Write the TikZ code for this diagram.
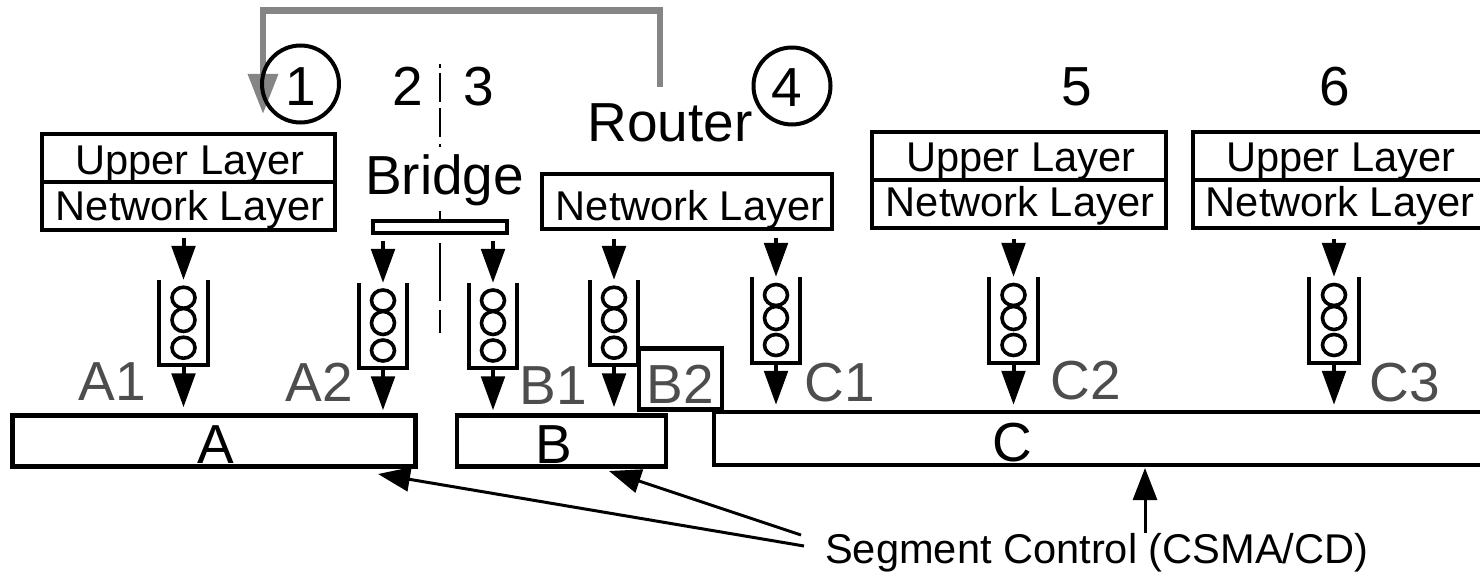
\documentclass[tikz,border=0pt]{standalone}
\usepackage{fontspec}
\setmainfont{Liberation Sans}
\usetikzlibrary{arrows.meta,shapes.geometric}
\definecolor{labelgray}{HTML}{4D4D4D}
\definecolor{routegray}{HTML}{858585}
\tikzset{
  x=1pt,y=-1pt,
  box/.style={draw=black,line width=4.5pt,fill=white,inner sep=0pt,minimum width=0pt,minimum height=0pt},
  small/.style={font=\fontsize{41.6}{44}\selectfont,inner sep=0pt,anchor=base},
  big/.style={font=\fontsize{55}{58}\selectfont,inner sep=0pt,anchor=base},
  gray label/.style={big,text=labelgray},
  flow/.style={line width=4pt,-{Triangle[width=23.5pt,length=34pt]}},
  thin flow/.style={line width=3pt,-{Triangle[width=24pt,length=32pt]}},
  route/.style={draw=routegray,line width=6.5pt,-{Triangle[width=29pt,length=40pt,fill=routegray]}},
  ring/.style={draw=black,line width=3.6pt,ellipse,inner sep=0pt,minimum width=23pt},
  wall/.style={line width=4pt,line cap=butt},
  slot/.style={inner sep=0pt},
  marker/.style={draw=black,line width=4pt,circle,minimum size=77pt,inner sep=0pt},
  divtop/.style={line width=2.6pt,dash pattern=on 4pt off 5pt on 29pt off 6pt on 29pt off 7pt on 3pt off 20pt},
  divlow/.style={line width=2.6pt,dash pattern=on 58pt off 9pt on 23pt off 20pt}
}
% name, centre x, top, bottom, ring1, ring2, ring3, width
\newcommand{\queueat}[8]{%
  \node[slot,minimum width=#8pt,minimum height=#4pt-#3pt] (#1) at (#2,{(#3+#4)/2}) {};
  \draw[wall] (#1.north west) -- (#1.south west) -- (#1.south east) -- (#1.north east);
  \node[ring,minimum height=21pt] (#1r1) at (#2,#5) {};
  \node[ring,minimum height=23pt] (#1r2) at (#2,#6) {};
  \node[ring,minimum height=21pt] (#1r3) at (#2,#7) {};
}
\begin{document}
\begin{tikzpicture}
\useasboundingbox (0,0) rectangle (1480,572);
% router path, below the circle of node 1
\coordinate (rs) at (660,87);
\coordinate (rt) at (263,114);
\draw[route] (rs) -- (660,10.5) -- (263,10.5) -- (rt);
% segments
\node[box,minimum width=403pt,minimum height=51pt] (segA) at (214,441) {};
\node[box,minimum width=209pt,minimum height=51pt] (segB) at (561.5,441) {};
\node[box,minimum width=786pt,minimum height=53pt] (segC) at (1107,438.5) {};
\node[big] (tA) at (216,463) {A};
\node[big] (tB) at (554,463) {B};
\node[big] (tC) at (1012,461) {C};
% layer boxes
\node[box,minimum width=293pt,minimum height=96pt] (host1) at (188.5,182) {};
\draw[line width=4.5pt] (host1.west) -- (host1.east);
\node[small] (u1) at (190,175) {Upper Layer};
\node[small] (n1) at (190,220) {Network Layer};
\node[box,minimum width=290pt,minimum height=55pt] (rtr) at (687,201.5) {};
\node[small] (nr) at (690,220) {Network Layer};
\node[box,minimum width=294pt,minimum height=96pt] (host5) at (1019,180) {};
\draw[line width=4.5pt] (host5.west) -- (host5.east);
\node[small] (u5) at (1021,172) {Upper Layer};
\node[small] (n5) at (1020,217) {Network Layer};
\node[box,minimum width=296pt,minimum height=96pt] (host6) at (1341,180) {};
\draw[line width=4.5pt] (host6.west) -- (host6.east);
\node[small] (u6) at (1341,172) {Upper Layer};
\node[small] (n6) at (1340,217) {Network Layer};
\node[box,minimum width=134pt,minimum height=11.5pt] (brg) at (440,227) {};
% labels
\node[big] (t2) at (408,106) {2};
\node[big] (t3) at (479,106) {3};
\node[big] (tb) at (444.5,195) {Bridge};
\node[big] (tr) at (670,142) {Router};
\node[big] (t5) at (1077,106) {5};
\node[big] (t6) at (1335,106) {6};
\node[big] (t1) at (301,106) {1};
\node[big] (t4) at (787,107) {4};
\node[marker] (c1) at (300.5,84) {};
\node[marker] (c4) at (792,86) {};
% divider
\coordinate (d0) at (440,64);
\coordinate (d1) at (440,147);
\coordinate (d2) at (440,211);
\coordinate (d3) at (440,220);
\coordinate (d4) at (440,243);
\coordinate (d5) at (440,333);
\draw[divtop] (d0) -- (d1);
\draw[line width=2.6pt] (d2) -- (d3);
\draw[divlow] (d4) -- (d5);
% queues
\queueat{q1}{183.5}{280}{365}{297.7}{320}{347.7}{49}
\queueat{q2}{383}{283}{368}{300.5}{323}{350.5}{47}
\queueat{q3}{493}{283}{368}{300.5}{323}{350.5}{48}
\queueat{q4}{614}{280}{365}{297.7}{320}{347.7}{47}
\queueat{q5}{776}{277}{363}{295}{318}{345}{47}
\queueat{q6}{1013.5}{277}{363}{295}{318}{345}{49}
\queueat{q7}{1334}{277}{363}{295}{318}{345}{50}
% arrows into queues
\draw[flow,shorten <=6pt] (q1.north |- host1.south) -- (q1.north);
\draw[flow,shorten <=6pt] (q2.north |- brg.south) -- (q2.north);
\draw[flow,shorten <=6pt] (q3.north |- brg.south) -- (q3.north);
\draw[flow,shorten <=8pt] (q4.north |- rtr.south) -- (q4.north);
\draw[flow,shorten <=7pt] (q5.north |- rtr.south) -- (q5.north);
\draw[flow,shorten <=9pt] (q6.north |- host5.south) -- (q6.north);
\draw[flow,shorten <=9pt] (q7.north |- host6.south) -- (q7.north);
% arrows out of queues
\draw[flow,shorten >=6pt] (q1.south) -- (q1.south |- segA.north);
\draw[flow,shorten >=3pt] (q2.south) -- (q2.south |- segA.north);
\draw[flow,shorten >=3pt] (q3.south) -- (q3.south |- segB.north);
\draw[flow,shorten >=6pt] (q4.south) -- (q4.south |- segB.north);
\draw[flow,shorten >=5pt] (q5.south) -- (q5.south |- segC.north);
\draw[flow,shorten >=5pt] (q6.south) -- (q6.south |- segC.north);
\draw[flow,shorten >=5pt] (q7.south) -- (q7.south |- segC.north);
% port labels
\node[gray label] (a1) at (112,400) {A1};
\node[gray label] (a2) at (319,401) {A2};
\node[gray label] (b1) at (553,404) {B1};
\node[box,minimum width=83pt,minimum height=61pt] (b2) at (680.5,379) {};
\node[gray label] (b2t) at (680,403) {B2};
\node[gray label] (c1l) at (840,401) {C1};
\node[gray label] (c2l) at (1086,399) {C2};
\node[gray label] (c3l) at (1405,401) {C3};
% segment control
\node[small,anchor=base west] (sc) at (825,563) {Segment Control (CSMA/CD)};
\coordinate (scA) at (804,546);
\coordinate (scB) at (801,535);
\coordinate (scC) at (1145,533);
\coordinate (tipA) at (378,474);
\coordinate (tipB) at (609,471);
\coordinate (tipC) at (1145,468);
\draw[thin flow] (scA) -- (tipA);
\draw[thin flow] (scB) -- (tipB);
\draw[thin flow] (scC) -- (tipC);
\end{tikzpicture}
\end{document}
